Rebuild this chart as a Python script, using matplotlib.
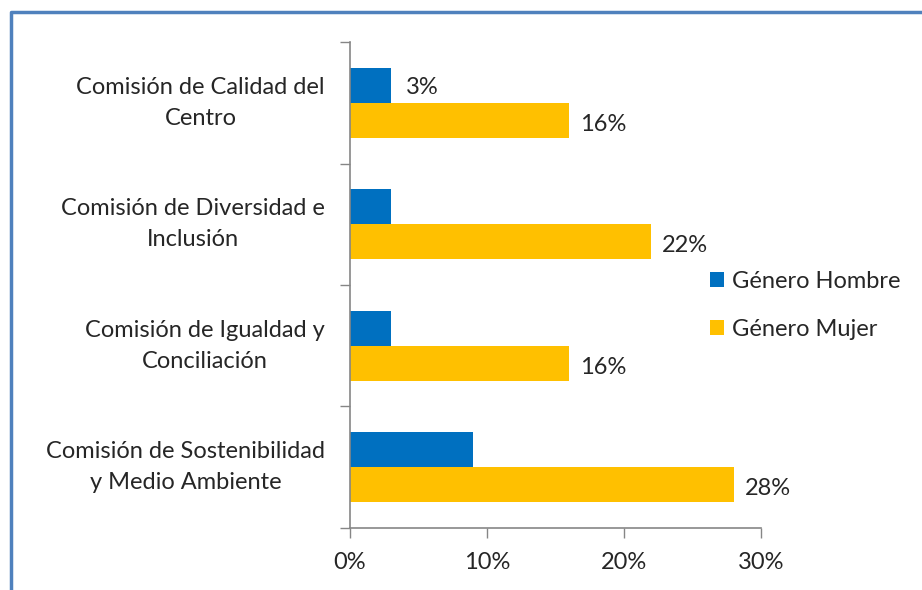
import matplotlib.pyplot as plt
from matplotlib.lines import Line2D
import numpy as np

plt.rcParams['font.family'] = ['Lato', 'DejaVu Sans']

# categories, top to bottom
categories = ['Comisión de Calidad del\nCentro',
              'Comisión de Diversidad e\nInclusión',
              'Comisión de Igualdad y\nConciliación',
              'Comisión de Sostenibilidad\ny Medio Ambiente']
hombre = [3, 3, 3, 9]
mujer = [16, 22, 16, 28]
hombre_labels = ['3%', None, None, None]
mujer_labels = ['16%', '22%', '16%', '28%']
x_ticks = [0, 10, 20, 30]

blue = '#0070c0'
gold = '#ffc000'
grey = '#868686'
txt = '#262626'
fs = 17

fig = plt.figure(figsize=(9.22, 5.9), dpi=100)
ax = fig.add_axes([0.3796, 0.1051, 0.4458, 0.8237])

y = np.arange(len(categories))
h = 0.29
ax.barh(y - h / 2, hombre, height=h, color=blue, label='Género Hombre')
ax.barh(y + h / 2, mujer, height=h, color=gold, label='Género Mujer')

for i, lab in enumerate(hombre_labels):
    if lab:
        ax.text(hombre[i] + 1.1, y[i] - h / 2 + 0.02, lab, va='center', ha='left', fontsize=fs, color=txt)
for i, lab in enumerate(mujer_labels):
    ax.text(mujer[i] + 0.8, y[i] + h / 2 + 0.03, lab, va='center', ha='left', fontsize=fs, color=txt)

ax.set_ylim(len(categories) - 0.5, -0.5)
ax.set_xlim(0, 30)
ax.set_yticks(y)
ax.set_yticklabels(categories, fontsize=fs, color=txt, linespacing=1.6)
for t in ax.get_yticklabels():
    t.set_multialignment('center')
    t.set_verticalalignment('center')
ax.tick_params(axis='y', which='major', length=0, pad=18)
ax.set_yticks(np.arange(len(categories) + 1) - 0.5, minor=True)
ax.tick_params(axis='y', which='minor', length=7, color=grey, width=1)
ax.set_xticks(x_ticks)
ax.set_xticklabels([f'{t}%' for t in x_ticks], fontsize=fs, color=txt)
ax.tick_params(axis='x', length=7, color=grey, width=1, pad=10)

for s in ['top', 'right']:
    ax.spines[s].set_visible(False)
for s in ['left', 'bottom']:
    ax.spines[s].set_color(grey)
    ax.spines[s].set_linewidth(1.2)

ax.legend(loc='center left', bbox_to_anchor=(0.875, 0.458), frameon=False, fontsize=fs,
          handlelength=0.6, handleheight=0.6, handletextpad=0.35, labelspacing=1.15,
          borderpad=0, borderaxespad=0, labelcolor=txt)

# outer chart border (left and top edges visible)
fig.add_artist(Line2D([11 / 922, 11 / 922, 1], [0, 1 - 12 / 590, 1 - 12 / 590],
                      transform=fig.transFigure, color='#4f81bd', linewidth=2.5))

fig.savefig('out.png', dpi=100)
